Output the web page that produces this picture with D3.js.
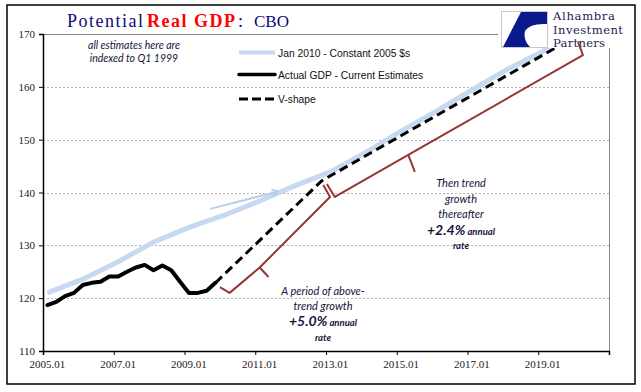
<!DOCTYPE html>
<html>
<head>
<meta charset="utf-8">
<script src="https://cdn.jsdelivr.net/npm/d3@7"></script>
<style>
  body { margin: 0; background: #fff; }
  svg { display: block; }
</style>
</head>
<body>
<div id="chart"></div>
<script>
'use strict'
var width = 641;
var height = 392;

// x axis works in quarters counted from 2005.01 (index 0)
var tickLabels = ["2005.01", "2007.01", "2009.01", "2011.01", "2013.01", "2015.01", "2017.01", "2019.01"];
var yTicks = [110, 120, 130, 140, 150, 160, 170];

// Actual GDP - current estimates, quarterly 2005.01 .. 2009.04
var actualGDP = [118.7, 119.3, 120.4, 121.0, 122.5, 122.9, 123.1, 124.1,
                 124.1, 125.0, 125.8, 126.3, 125.3, 126.2, 125.3, 123.1,
                 121.0, 121.0, 121.4, 122.9];

// Jan 2010 potential (constant 2005 $s), read at each Q1
var potentialYears = [2005, 2006, 2007, 2008, 2009, 2010, 2011, 2012, 2013, 2014, 2015, 2016, 2017, 2018, 2019, 2020];
var potentialGDP = [121.0, 123.6, 126.9, 130.6, 133.4, 135.7, 138.4, 141.3, 143.9, 147.6, 151.6, 155.4, 159.4, 163.3, 166.7, 170.1];

// V-shape: quarter index and value
var vShapeQuarter = [19, 31, 58];
var vShapeValue = [122.9, 142.2, 167.9];

var legendLabels = ["Jan 2010 - Constant 2005 $s", "Actual GDP - Current Estimates", "V-shape"];

// brackets drawn along the V-shape (quarter index, value)
var bracket1 = [[19.5, 122.1], [20.6, 121.0], [24.0, 125.8], [31.95, 139.15], [31.2, 141.4]];
var bracket1Stub = [[24.0, 125.8], [25.0, 124.0]];
var bracket2 = [[31.6, 141.6], [32.5, 139.15], [40.8, 147.1], [60.55, 166.0], [60.0, 168.5]];
var bracket2Stub = [[40.8, 147.1], [41.55, 143.9]];
var arrowFrom = [18.4, 136.9];
var arrowTo = [26.1, 140.2];

var svg = d3.select("#chart")
	.append("svg")
	.attr("width", width)
	.attr("height", height);

svg.append("rect")
	.attr("x", 7).attr("y", 5)
	.attr("width", 628).attr("height", 379)
	.attr("fill", "white")
	.style("stroke", "black")
	.style("stroke-width", "1.5px");

var x = d3.scaleLinear().domain([-0.5, 63.5]).range([43, 609]);
var y = d3.scaleLinear().domain([110, 170]).range([351, 34]);

// gridlines
svg.append("g")
	.selectAll("line")
	.data(yTicks.filter(function(d){ return d > 110 && d < 170; }))
	.enter()
	.append("line")
		.attr("x1", x(-0.5)).attr("x2", x(63.5))
		.attr("y1", function(d){ return Math.round(y(d)) + 0.5; })
		.attr("y2", function(d){ return Math.round(y(d)) + 0.5; })
		.style("stroke", "#b4b4b4")
		.style("stroke-width", "1px")
		.style("stroke-dasharray", "2,2");

// plot frame top & right
svg.append("line")
	.attr("x1", x(-0.5)).attr("x2", x(63.5))
	.attr("y1", Math.round(y(170)) + 0.5).attr("y2", Math.round(y(170)) + 0.5)
	.style("stroke", "#868686").style("stroke-width", "1px");
svg.append("line")
	.attr("x1", Math.round(x(63.5)) + 0.5).attr("x2", Math.round(x(63.5)) + 0.5)
	.attr("y1", y(170)).attr("y2", y(110))
	.style("stroke", "#868686").style("stroke-width", "1px");

// y axis
var yAxis = svg.append("g")
	.attr("transform", "translate(" + x(-0.5) + ",0)")
	.call(d3.axisLeft(y).tickValues(yTicks).tickSize(4).tickPadding(4).tickFormat(d3.format("d")));
yAxis.select(".domain").style("stroke", "black").style("stroke-width", "1.5px");
yAxis.selectAll(".tick line").style("stroke", "black");
yAxis.selectAll("text")
	.style("font-family", "'Liberation Serif', serif")
	.style("font-size", "11px")
	.style("fill", "#222");

// x axis: ticks between categories, labels at category centres
var xAxis = svg.append("g")
	.attr("transform", "translate(0," + y(110) + ")")
	.call(d3.axisBottom(x).tickValues(d3.range(0, 9).map(function(i){ return i * 8 - 0.5; })).tickSize(4).tickFormat(""));
xAxis.select(".domain").style("stroke", "black").style("stroke-width", "1.5px");
xAxis.selectAll(".tick line").style("stroke", "black");

svg.append("g")
	.selectAll("text")
	.data(tickLabels)
	.enter()
	.append("text")
		.attr("x", function(d, i){ return x(i * 8); })
		.attr("y", 368)
		.attr("text-anchor", "middle")
		.text(function(d){ return d; })
		.style("font-family", "'Liberation Serif', serif")
		.style("font-size", "11px")
		.style("fill", "#222");

// series
var line = d3.line()
	.x(function(d){ return x(d[0]); })
	.y(function(d){ return y(d[1]); });

svg.append("path")
	.attr("d", line(potentialYears.map(function(yr, i){ return [(yr - 2005) * 4, potentialGDP[i]]; })))
	.attr("fill", "none")
	.style("stroke", "#c6d9f1")
	.style("stroke-width", "5px")
	.style("stroke-linejoin", "round");

svg.append("path")
	.attr("d", line(actualGDP.map(function(v, i){ return [i, v]; })))
	.attr("fill", "none")
	.style("stroke", "black")
	.style("stroke-width", "4px")
	.style("stroke-linejoin", "round")
	.style("stroke-linecap", "round");

svg.append("path")
	.attr("d", line(vShapeQuarter.map(function(q, i){ return [q, vShapeValue[i]]; })))
	.attr("fill", "none")
	.style("stroke", "black")
	.style("stroke-width", "3px")
	.style("stroke-dasharray", "9,5");

// light blue arrow
svg.append("line")
	.attr("x1", x(arrowFrom[0])).attr("y1", y(arrowFrom[1]))
	.attr("x2", x(arrowTo[0])).attr("y2", y(arrowTo[1]))
	.style("stroke", "#b9cde5").style("stroke-width", "2px");
var ang = Math.atan2(y(arrowTo[1]) - y(arrowFrom[1]), x(arrowTo[0]) - x(arrowFrom[0]));
[-0.5, 0.5].forEach(function(a){
	svg.append("line")
		.attr("x1", x(arrowTo[0])).attr("y1", y(arrowTo[1]))
		.attr("x2", x(arrowTo[0]) - 7 * Math.cos(ang + a))
		.attr("y2", y(arrowTo[1]) - 7 * Math.sin(ang + a))
		.style("stroke", "#b9cde5").style("stroke-width", "2px");
});

// legend
var legend = svg.append("g");
var legendY = [52.5, 74.5, 99];
legendLabels.forEach(function(label, i){
	var l = legend.append("line")
		.attr("x1", 239).attr("x2", 275)
		.attr("y1", legendY[i]).attr("y2", legendY[i]);
	if (i === 0) l.style("stroke", "#c6d9f1").style("stroke-width", "4px");
	if (i === 1) l.style("stroke", "black").style("stroke-width", "3.5px").style("stroke-linecap", "round");
	if (i === 2) l.style("stroke", "black").style("stroke-width", "3px").style("stroke-dasharray", "9,4");
	legend.append("text")
		.attr("x", 278).attr("y", legendY[i] + 4)
		.text(label)
		.style("font-family", "'Liberation Sans', Arial, sans-serif")
		.style("font-size", "10.3px")
		.style("fill", "#111");
});

// note top left
var noteFont = "Lato, 'Open Sans', sans-serif";
[["all estimates here are", 48.5], ["indexed to Q1 1999", 62]].forEach(function(t){
	svg.append("text")
		.attr("x", 134).attr("y", t[1])
		.attr("text-anchor", "middle")
		.text(t[0])
		.style("font-family", noteFont)
		.style("font-style", "italic")
		.style("font-size", "10.5px")
		.style("fill", "#14143c");
});

// title
var title = svg.append("g")
	.style("font-family", "'Liberation Serif', 'Times New Roman', serif")
	.style("font-size", "18px");
title.append("text").attr("x", 67).attr("y", 27).attr("textLength", 76).text("Potential").style("fill", "#0a0a7a");
title.append("text").attr("x", 147).attr("y", 27).attr("textLength", 88).text("Real GDP")
	.style("fill", "#ff0000").style("font-weight", "bold");
title.append("text").attr("x", 238).attr("y", 27).text(":").style("fill", "#0a0a7a");
title.append("text").attr("x", 254).attr("y", 27).text("CBO").style("fill", "#0a0a7a").style("font-size", "17px");

// logo
var logo = svg.append("g");
logo.append("rect").attr("x", 498).attr("y", 8).attr("width", 132).attr("height", 40).attr("fill", "white");
logo.append("rect").attr("x", 501.5).attr("y", 11.5).attr("width", 46).attr("height", 36)
	.attr("fill", "white").style("stroke", "#c8c8c8").style("stroke-width", "1px");
logo.append("path")
	.attr("d", "M521,12 L547,12 L547,24 Q530,23 525,31 Q523,40 530,47 L503,47 Z")
	.attr("fill", "#0a1a8c");
[["Alhambra", 20, 62], ["Investment", 33.5, 70], ["Partners", 46.5, 52]].forEach(function(t){
	logo.append("text")
		.attr("x", 553).attr("y", t[1])
		.attr("textLength", t[2])
		.text(t[0])
		.style("font-family", "'DejaVu Serif', serif")
		.style("font-size", "11.6px")
		.style("fill", "#1c2350");
});

// brackets
[bracket1, bracket1Stub, bracket2, bracket2Stub].forEach(function(b){
	svg.append("path")
		.attr("d", line(b))
		.attr("fill", "none")
		.style("stroke", "#953735")
		.style("stroke-width", "2px")
		.style("stroke-linejoin", "round");
});

// annotations
function annotate(cx, lines){
	lines.forEach(function(l){
		var t = svg.append("text")
			.attr("x", cx).attr("y", l.y)
			.attr("text-anchor", "middle")
			.style("font-family", noteFont)
			.style("font-style", "italic")
			.style("fill", "#14143c");
		l.parts.forEach(function(p){
			t.append("tspan")
				.text(p[0])
				.style("font-size", p[1] + "px")
				.style("font-weight", p[2] ? "bold" : "normal");
		});
	});
}
annotate(323, [
	{y: 294.5, parts: [["A period of above-", 11]]},
	{y: 309.5, parts: [["trend growth", 11]]},
	{y: 325.5, parts: [["+5.0%", 14, true], [" annual", 9.5, true]]},
	{y: 340.5, parts: [["rate", 9.5, true]]}
]);
annotate(461, [
	{y: 187, parts: [["Then trend", 11]]},
	{y: 202.5, parts: [["growth", 11]]},
	{y: 218, parts: [["thereafter", 11]]},
	{y: 234.5, parts: [["+2.4%", 14, true], [" annual", 9.5, true]]},
	{y: 248.5, parts: [["rate", 9.5, true]]}
]);
</script>
</body>
</html>
